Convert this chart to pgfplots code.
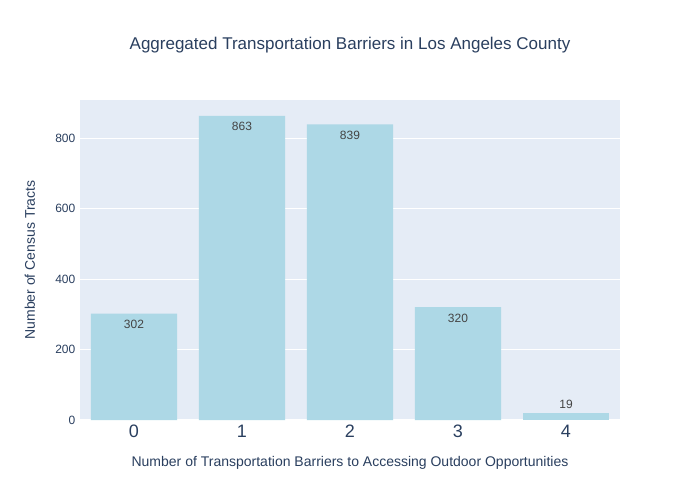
\documentclass[border=0pt]{standalone}
\usepackage{fontspec}
\setmainfont{Liberation Sans}
\usepackage{pgfplots}
\pgfplotsset{compat=1.18}
\definecolor{bg}{HTML}{E5ECF6}
\definecolor{barc}{HTML}{ADD8E6}
\definecolor{txt}{HTML}{2A3F5F}
\definecolor{lbl}{HTML}{444444}
\begin{document}
\begin{tikzpicture}
\path[use as bounding box, fill=white] (0,0) rectangle (525pt,375pt);
\node[font=\fontsize{12.75}{15}\selectfont, text=txt] at (262.5pt,341.25pt) {Aggregated Transportation Barriers in Los Angeles County};
\begin{axis}[
 at={(60pt,60pt)}, anchor=south west, scale only axis, width=405pt, height=240pt,
 xmin=-0.5, xmax=4.5, ymin=0, ymax=908,
 axis background/.style={fill=bg},
 axis line style={draw=none},
 xtick={0,1,2,3,4}, ytick={0,200,400,600,800},
 major tick length=0pt,
 ymajorgrids, grid style={white, line width=0.75pt},
 xticklabel style={font=\fontsize{13.5}{16}\selectfont, text=txt, yshift=-0.5pt},
 yticklabel style={font=\fontsize{9}{11}\selectfont, text=txt},
 /pgf/number format/assume math mode=true,
 xlabel={Number of Transportation Barriers to Accessing Outdoor Opportunities},
 ylabel={Number of Census Tracts},
 every axis x label/.style={at={(axis description cs:0.5,-0.134)}, anchor=center, font=\fontsize{10.5}{12}\selectfont, text=txt},
 every axis y label/.style={at={(axis description cs:-0.0926,0.5)}, anchor=center, rotate=90, font=\fontsize{10.5}{12}\selectfont, text=txt},
 clip=false,
]
\addplot[ybar, bar width=0.8, bar shift=0pt, fill=barc, draw=none,
  nodes near coords, nodes near coords style={anchor=north, yshift=-1.5pt, font=\fontsize{9}{11}\selectfont, text=lbl}]
  coordinates {(0,302) (1,863) (2,839) (3,320)};
\addplot[ybar, bar width=0.8, bar shift=0pt, fill=barc, draw=none,
  nodes near coords, nodes near coords style={anchor=south, font=\fontsize{9}{11}\selectfont, text=lbl}]
  coordinates {(4,19)};
\end{axis}
\end{tikzpicture}
\end{document}
